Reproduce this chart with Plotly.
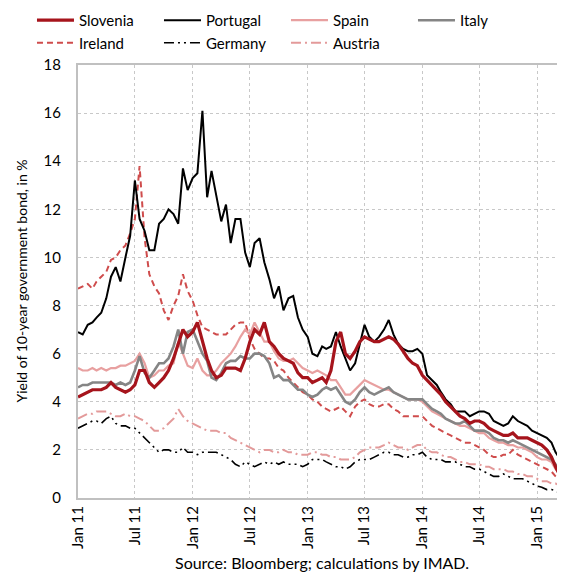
import plotly.graph_objects as go

# semi-monthly observation dates, Jan 2011 - Mar 2015
dates = [f"{y}-{m:02d}-{d:02d}" for y in range(2011, 2016) for m in range(1, 13) for d in (1, 16)]
dates = [d for d in dates if d <= "2015-03-16"] + ["2015-03-27"]

slovenia = [4.2, 4.3, 4.4, 4.5, 4.5, 4.5, 4.6, 4.8, 4.6, 4.5, 4.4, 4.5, 4.7, 5.3, 5.3, 4.8, 4.6, 4.8, 5.0, 5.3,
            5.8, 6.4, 7.0, 6.7, 6.9, 7.3, 6.5, 5.8, 5.3, 5.0, 5.1, 5.4, 5.4, 5.4, 5.3, 5.8, 6.5, 7.0, 6.8, 7.3,
            6.5, 6.3, 6.0, 5.8, 5.7, 5.6, 5.2, 5.0, 5.0, 4.8, 4.9, 5.0, 4.8, 5.3, 6.5, 6.9, 6.0, 5.8, 6.1, 6.5,
            6.7, 6.6, 6.5, 6.5, 6.6, 6.7, 6.6, 6.4, 6.1, 5.8, 5.6, 5.5, 5.1, 4.9, 4.7, 4.5, 4.3, 4.0, 3.8, 3.6,
            3.4, 3.3, 3.1, 3.2, 3.2, 3.1, 2.9, 2.8, 2.7, 2.6, 2.6, 2.7, 2.5, 2.5, 2.5, 2.4, 2.3, 2.2, 2.0, 1.7,
            1.3, 0.9, 1.0]
portugal = [6.9, 6.8, 7.2, 7.3, 7.5, 7.7, 8.3, 9.2, 9.6, 9.0, 10.0, 10.9, 13.2, 11.6, 11.1, 10.3, 10.3, 11.4, 11.6, 12.0,
            11.8, 11.4, 13.7, 12.8, 13.3, 13.5, 16.1, 12.5, 13.6, 12.5, 11.5, 12.2, 10.6, 11.6, 11.6, 10.2, 9.6, 10.6, 10.8, 9.8,
            9.1, 8.3, 8.8, 7.8, 8.3, 8.4, 7.5, 7.0, 6.7, 6.0, 5.9, 6.3, 6.2, 6.3, 6.9, 6.3, 5.8, 5.3, 5.6, 6.4,
            7.2, 6.7, 6.5, 6.7, 7.0, 7.4, 6.8, 6.4, 6.2, 6.1, 6.1, 6.2, 6.0, 5.1, 4.9, 4.7, 4.4, 4.1, 3.9, 3.6,
            3.6, 3.6, 3.4, 3.5, 3.6, 3.6, 3.5, 3.2, 3.1, 3.0, 3.1, 3.4, 3.2, 3.1, 3.0, 2.8, 2.7, 2.6, 2.5, 2.3,
            1.9, 1.6, 1.8]
spain = [5.4, 5.3, 5.3, 5.4, 5.3, 5.4, 5.3, 5.4, 5.4, 5.5, 5.5, 5.6, 5.7, 6.0, 5.6, 5.0, 5.1, 5.3, 5.3, 5.5,
         5.6, 6.5, 6.0, 5.5, 5.4, 5.8, 5.3, 5.1, 5.1, 5.3, 5.6, 5.8, 6.0, 6.3, 6.7, 7.0, 6.8, 7.3, 6.9, 6.5,
         6.5, 6.1, 5.8, 5.7, 5.7, 5.8, 5.6, 5.4, 5.3, 5.2, 5.3, 5.2, 5.1, 4.9, 4.9, 4.6, 4.3, 4.3, 4.5, 4.7,
         4.9, 4.8, 4.7, 4.6, 4.5, 4.5, 4.4, 4.3, 4.2, 4.1, 4.1, 4.1, 4.0, 3.8, 3.6, 3.5, 3.4, 3.3, 3.2, 3.1,
         3.0, 3.0, 2.9, 2.8, 2.7, 2.7, 2.5, 2.4, 2.3, 2.3, 2.2, 2.2, 2.1, 2.1, 2.0, 1.9, 1.7, 1.6, 1.6, 1.5,
         1.2, 1.0, 1.2]
italy = [4.6, 4.7, 4.7, 4.8, 4.8, 4.8, 4.8, 4.8, 4.7, 4.8, 4.7, 4.8, 5.3, 5.9, 5.2, 5.0, 5.3, 5.6, 5.6, 5.8,
         6.3, 7.0, 6.0, 6.9, 7.0, 6.5, 6.0, 5.7, 5.0, 4.9, 5.2, 5.6, 5.7, 5.7, 5.9, 5.8, 5.8, 6.0, 6.0, 5.9,
         5.6, 5.0, 5.1, 4.9, 4.9, 4.7, 4.5, 4.5, 4.3, 4.2, 4.3, 4.5, 4.6, 4.5, 4.6, 4.3, 4.0, 3.9, 4.1, 4.4,
         4.6, 4.4, 4.3, 4.4, 4.5, 4.6, 4.4, 4.3, 4.2, 4.1, 4.1, 4.1, 4.1, 3.9, 3.7, 3.6, 3.5, 3.3, 3.2, 3.1,
         3.1, 3.2, 3.0, 2.8, 2.8, 2.8, 2.7, 2.5, 2.4, 2.4, 2.3, 2.4, 2.3, 2.2, 2.1, 2.0, 1.9, 1.8, 1.7, 1.6,
         1.4, 1.2, 1.3]
ireland = [8.7, 8.8, 8.9, 8.7, 9.0, 9.2, 9.4, 9.9, 10.0, 10.3, 10.5, 11.0, 11.6, 13.8, 10.8, 9.3, 8.8, 8.5, 7.8, 7.4,
           8.0, 8.4, 9.3, 8.6, 8.2, 7.6, 7.1, 7.0, 6.9, 6.8, 6.8, 6.8, 7.0, 7.2, 7.3, 7.3, 6.6, 6.2, 6.0, 5.8,
           5.8, 5.7, 5.4, 5.3, 5.0, 4.8, 4.6, 4.4, 4.3, 4.1, 4.0, 3.8, 3.7, 3.6, 3.7, 3.8, 3.6, 3.4, 3.8, 4.0,
           4.1, 3.9, 3.8, 3.8, 3.9, 3.9, 3.7, 3.6, 3.4, 3.4, 3.4, 3.4, 3.4, 3.2, 3.0, 2.9, 2.8, 2.7, 2.6, 2.5,
           2.4, 2.3, 2.3, 2.2, 2.1, 2.0, 1.8, 1.7, 1.7, 1.8, 1.8, 2.0, 1.8, 1.7, 1.6, 1.5, 1.4, 1.3, 1.2, 1.1,
           0.9, 0.7, 0.6]
germany = [2.9, 3.0, 3.1, 3.2, 3.2, 3.1, 3.3, 3.4, 3.1, 3.0, 3.0, 2.9, 2.9, 2.7, 2.5, 2.3, 2.1, 1.9, 2.0, 2.0,
           1.9, 1.9, 2.1, 1.9, 1.9, 1.8, 1.9, 1.9, 1.9, 1.9, 1.8, 1.7, 1.6, 1.4, 1.3, 1.5, 1.4, 1.3, 1.4, 1.5,
           1.4, 1.5, 1.4, 1.5, 1.4, 1.4, 1.4, 1.3, 1.4, 1.6, 1.6, 1.6, 1.5, 1.4, 1.3, 1.3, 1.2, 1.3, 1.5, 1.6,
           1.6, 1.6, 1.7, 1.8, 1.9, 1.9, 1.8, 1.8, 1.7, 1.7, 1.8, 1.8, 1.9, 1.7, 1.6, 1.6, 1.6, 1.5, 1.5, 1.5,
           1.4, 1.3, 1.3, 1.2, 1.2, 1.1, 1.0, 0.9, 0.9, 1.0, 0.9, 0.8, 0.8, 0.8, 0.7, 0.6, 0.5, 0.45, 0.35, 0.35,
           0.3, 0.2, 0.2]
austria = [3.3, 3.4, 3.5, 3.5, 3.6, 3.6, 3.6, 3.5, 3.4, 3.4, 3.5, 3.4, 3.4, 3.3, 3.2, 3.0, 2.8, 2.8, 2.9, 3.1,
           3.3, 3.7, 3.4, 3.2, 3.1, 3.0, 2.9, 2.8, 2.8, 2.8, 2.7, 2.7, 2.5, 2.4, 2.3, 2.2, 2.1, 2.0, 1.9, 2.0,
           2.0, 1.9, 1.9, 2.0, 1.9, 1.9, 1.8, 1.8, 1.8, 1.9, 1.9, 1.8, 1.8, 1.7, 1.7, 1.6, 1.6, 1.6, 1.7, 1.9,
           2.0, 2.1, 2.1, 2.1, 2.2, 2.3, 2.2, 2.1, 2.1, 2.0, 2.1, 2.2, 2.2, 2.0, 1.9, 1.9, 1.8, 1.7, 1.7, 1.6,
           1.5, 1.5, 1.4, 1.4, 1.4, 1.3, 1.3, 1.2, 1.2, 1.2, 1.1, 1.1, 1.0, 1.0, 0.9, 0.9, 0.8, 0.7, 0.7, 0.6,
           0.6, 0.5, 0.45]

font = "Lato"

fig = go.Figure()
# draw order: back to front
fig.add_trace(go.Scatter(x=dates, y=germany, name="Germany", mode="lines",
                         line=dict(color="black", width=1.6, dash="10px,4px,2px,4px,2px,4px")))
fig.add_trace(go.Scatter(x=dates, y=austria, name="Austria", mode="lines",
                         line=dict(color="#e39a9a", width=2, dash="10px,4px,2px,4px")))
fig.add_trace(go.Scatter(x=dates, y=ireland, name="Ireland", mode="lines",
                         line=dict(color="#cf4c4c", width=2, dash="6px,4px")))
fig.add_trace(go.Scatter(x=dates, y=spain, name="Spain", mode="lines",
                         line=dict(color="#e8a0a0", width=2.2)))
fig.add_trace(go.Scatter(x=dates, y=italy, name="Italy", mode="lines",
                         line=dict(color="#858585", width=2.6)))
fig.add_trace(go.Scatter(x=dates, y=portugal, name="Portugal", mode="lines",
                         line=dict(color="black", width=2)))
fig.add_trace(go.Scatter(x=dates, y=slovenia, name="Slovenia", mode="lines",
                         line=dict(color="#a6141c", width=3.2)))

# legend order as in the reference
order = ["Slovenia", "Portugal", "Spain", "Italy", "Ireland", "Germany", "Austria"]
for tr in fig.data:
    tr.legendrank = order.index(tr.name) + 1

# note: the page body adds an 8px margin, so the layout is offset by -8px
fig.update_layout(
    width=565, height=572,
    margin=dict(l=70, r=8, t=57, b=82, autoexpand=False),
    plot_bgcolor="white", paper_bgcolor="white",
    font=dict(family=font, size=15, color="black"),
    showlegend=True,
    legend=dict(orientation="h", xref="paper", yref="paper", x=-0.0945, y=1.141,
                xanchor="left", yanchor="top", itemwidth=37, entrywidth=75, entrywidthmode="pixels",
                font=dict(size=15), bgcolor="rgba(0,0,0,0)", tracegroupgap=0),
    xaxis=dict(type="date", range=["2011-01-01", "2015-03-31"], dtick="M6", tick0="2011-01-01",
               tickformat="%b %y", tickangle=-90, showgrid=True, gridcolor="#c8c8c8", griddash="dot",
               showline=True, linecolor="#c0c0c0", linewidth=2, mirror=True, ticks="", zeroline=False),
    yaxis=dict(range=[0, 18], dtick=2, showgrid=True, gridcolor="#c8c8c8", griddash="dot",
               showline=True, linecolor="#c0c0c0", linewidth=2, mirror=True, ticks="", zeroline=False,
               ticklabelstandoff=12),
    annotations=[
        dict(text="Source: Bloomberg; calculations by IMAD.", xref="paper", yref="paper",
             x=0.501, y=-0.148, xanchor="center", yanchor="middle", showarrow=False,
             font=dict(size=16)),
        dict(text="Yield of 10-year government bond, in %", xref="paper", yref="paper",
             x=-0.117, y=0.5, xanchor="center", yanchor="middle", textangle=-90, showarrow=False,
             font=dict(size=14)),
    ],
)

fig.write_html("out.html")
